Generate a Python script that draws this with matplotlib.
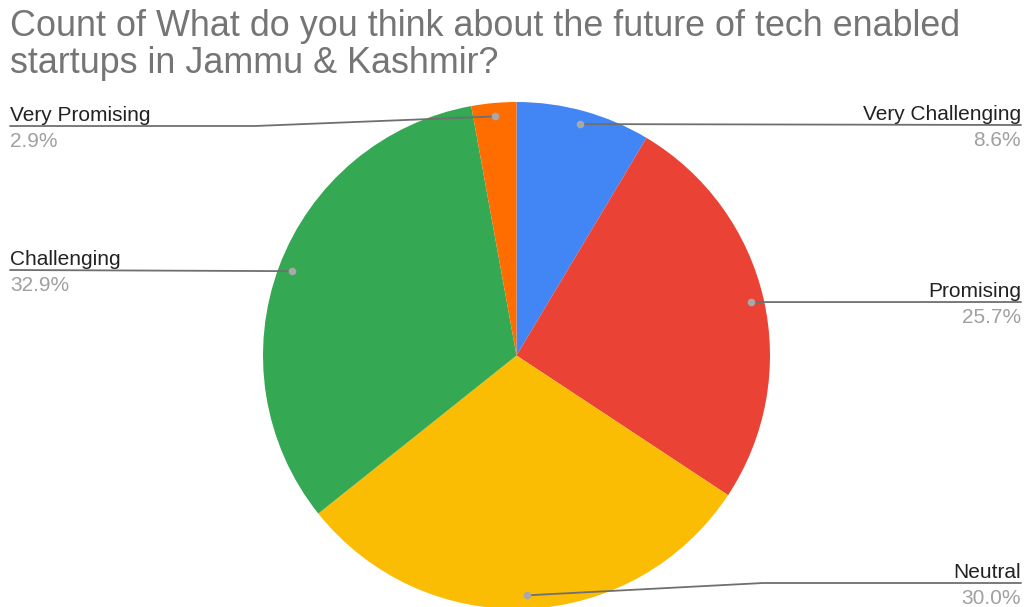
import numpy as np
import matplotlib
matplotlib.use("Agg")
import matplotlib.pyplot as plt

title_lines = ["Count of What do you think about the future of tech enabled",
               "startups in Jammu & Kashmir?"]
categories = ["Very Challenging", "Promising", "Neutral", "Challenging", "Very Promising"]
counts = [6, 18, 21, 23, 2]
colors = ["#4285F4", "#EA4335", "#FBBC04", "#34A853", "#FF6D01"]

W, H = 1026, 607
plt.rcParams["font.family"] = ["Liberation Sans", "DejaVu Sans"]

fig = plt.figure(figsize=(W / 100, H / 100), dpi=100)

cx, cy, R = 516.5, 355.5, 253.5

# pie axes (pixel frame, y up)
pax = fig.add_axes([0, 0, 1, 1])
wedges, _ = pax.pie(counts, colors=colors, startangle=90, counterclock=False,
                    center=(cx, H - cy), radius=R, frame=True,
                    wedgeprops=dict(linewidth=0))
pax.set_xlim(0, W)
pax.set_ylim(0, H)
pax.axis("off")

# overlay axes for leader lines and text (pixel frame, y down)
ax = fig.add_axes([0, 0, 1, 1])
ax.set_xlim(0, W)
ax.set_ylim(H, 0)
ax.axis("off")

total = sum(counts)
pcts = [100 * c / total for c in counts]

# label layout: (side, bend x or None, underline y)
layout = {
    "Very Challenging": ("right", None, 125),
    "Promising": ("right", None, 302),
    "Neutral": ("right", 763, 583),
    "Challenging": ("left", None, 270),
    "Very Promising": ("left", 255, 126),
}

line_col = "#6f6f6f"
for w, name, p in zip(wedges, categories, pcts):
    mid = np.deg2rad((w.theta1 + w.theta2) / 2)
    dx = cx + 0.947 * R * np.cos(mid)
    dy = cy - 0.947 * R * np.sin(mid)
    side, bend, uy = layout[name]
    xend = 1021 if side == "right" else 10
    if bend is None:
        xs, ys = [dx, xend], [dy, uy]
    else:
        xs, ys = [dx, bend, xend], [dy, uy, uy]
    ax.plot(xs, ys, color=line_col, lw=1.3, solid_capstyle="round", zorder=5)
    ax.plot(dx, dy, "o", ms=5.5, color="#a8a8a8", mec="none", zorder=6)
    ha = "right" if side == "right" else "left"
    ax.text(xend, uy - 5, name, ha=ha, va="baseline", fontsize=15,
            color="#222222", zorder=7)
    ax.text(xend, uy + 21, f"{p:.1f}%", ha=ha, va="baseline", fontsize=15,
            color="#a0a0a0", zorder=7)

ax.text(10, 36, title_lines[0], ha="left", va="baseline", fontsize=25.8,
        color="#757575")
ax.text(10, 73, title_lines[1], ha="left", va="baseline", fontsize=25.8,
        color="#757575")

fig.savefig("out.png", dpi=100)
